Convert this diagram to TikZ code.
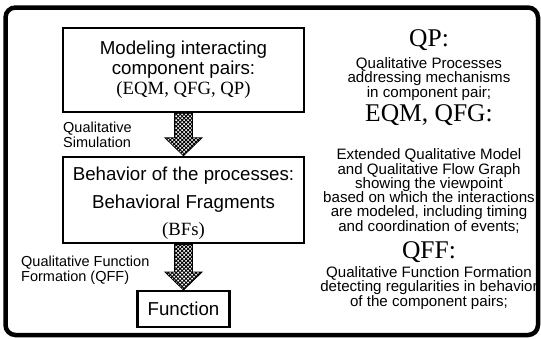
\documentclass[tikz,border=0pt]{standalone}
\usepackage{fontspec}
\setmainfont{Liberation Serif}
\setsansfont{Liberation Sans}
\usetikzlibrary{shapes, arrows, positioning, calc, patterns.meta}

\begin{document}
\begin{tikzpicture}[x=1pt, y=-1pt, font=\sffamily, node distance=42.6pt]

\tikzstyle{block} = [draw, shape=rectangle, line width=2.4pt, align=center, font=\sffamily\fontsize{18.7}{20}\selectfont]
\tikzstyle{side} = [align=left, inner sep=0pt, font=\sffamily\fontsize{14.5}{15.5}\selectfont]
\tikzstyle{head} = [inner sep=0pt, font=\rmfamily\fontsize{25.5}{25.5}\selectfont]
\tikzstyle{desc} = [align=center, inner sep=0pt, font=\sffamily\fontsize{15.1}{14.3}\selectfont]
\tikzstyle{hatched} = [draw, line width=0.8pt, pattern={Hatch[angle=45, distance=2.8pt, line width=0.9pt]}]

\useasboundingbox (0,0) rectangle (541,338);
\draw[line width=4.5pt, rounded corners=10pt] (5.5,7.5) rectangle (538,335);

%Creating Blocks
\node[block, minimum width=241pt, minimum height=84pt] at (183.5,70) (model) {Modeling interacting\\component pairs:\\{\rmfamily (EQM, QFG, QP)}};
\node[block, minimum width=241pt, minimum height=84pt, below=of model, font=\sffamily\fontsize{18.7}{27.5}\selectfont] (behav) {\rule{0pt}{20.6pt}Behavior of the processes:\\Behavioral Fragments\\{\rmfamily (BFs)}};
\node[block, minimum width=92pt, minimum height=36pt, below=45.6pt of behav] (func) {Function};

%Step labels
\node[side, anchor=west] at (63,135) (qsim) {Qualitative\\Simulation};
\node[side, anchor=west] at (21,270) (qform) {Qualitative Function\\Formation (QFF)};

%Legend
\node[head] at (429,40) (qp) {QP:};
\node[desc] at (429,79) (qpdesc) {Qualitative Processes\\addressing mechanisms\\in component pair;};
\node[head] at (429,115) (eqm) {EQM, QFG:};
\node[desc] at (429,191) (eqmdesc) {Extended Qualitative Model\\and Qualitative Flow Graph\\showing the viewpoint\\based on which the interactions\\are modeled, including timing\\and coordination of events;};
\node[head] at (429,252) (qff) {QFF:};
\node[desc] at (429,288) (qffdesc) {Qualitative Function Formation\\detecting regularities in behavior\\of the component pairs;};

%Conecting Blocks
\draw[hatched] ($(model.south)+(-9,0)$) -- ($(behav.north)+(-9,-18)$) -- ($(behav.north)+(-18.5,-18)$) -- (behav.north) -- ($(behav.north)+(18.5,-18)$) -- ($(behav.north)+(9,-18)$) -- ($(model.south)+(9,0)$) -- cycle;
\draw[hatched] ($(behav.south)+(-9,0)$) -- ($(func.north)+(-9,-18)$) -- ($(func.north)+(-18.5,-18)$) -- (func.north) -- ($(func.north)+(18.5,-18)$) -- ($(func.north)+(9,-18)$) -- ($(behav.south)+(9,0)$) -- cycle;

\end{tikzpicture}
\end{document}
